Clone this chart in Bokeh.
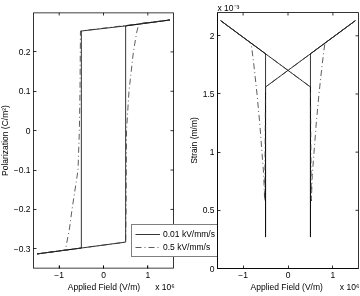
from bokeh.plotting import figure
from bokeh.models import Range1d, FixedTicker, Legend, LegendItem
from bokeh.layouts import row
from bokeh.embed import file_html
from bokeh.resources import INLINE
import math

# ---------------- data (field in units of 1e6 V/m) ----------------
series_names = ["0.01 kV/mm/s", "0.5 kV/mm/s"]

pol_slow_field = [-1.5, -0.5, 0.5, 0.5, 1.5, 0.5, -0.5, -0.5, -1.5]
pol_slow_value = [-0.313, -0.298, -0.283, 0.266, 0.281, 0.266, 0.253, -0.298, -0.313]

pol_fast_field = [-1.5, 0.5, 0.51, 0.515, 0.52, 0.575, 0.675, 0.75, 0.8, 1.5,
                  -0.52, -0.53, -0.545, -0.575, -0.71, -0.77, -0.86, -1.5]
pol_fast_value = [-0.313, -0.283, -0.2, -0.1, 0.0, 0.1, 0.2, 0.25, 0.272, 0.281,
                  0.253, 0.1, 0.0, -0.1, -0.2, -0.25, -0.303, -0.313]

# strain in units of 1e-3
strain_slow_field = [-1.5, 0.5, 0.5, 0.5, 1.5, -0.5, -0.5, -0.5, -1.5]
strain_slow_value = [2.13, 1.56, 0.27, 1.845, 2.13, 1.56, 0.27, 1.845, 2.13]

strain_fast_field = [-1.5, 0.5, 0.51, 0.52, 0.54, 0.58, 0.63, 0.69, 0.76, 0.82, 1.5,
                     -0.5, -0.51, -0.52, -0.54, -0.58, -0.63, -0.69, -0.76, -0.82, -1.5]
strain_fast_value = [2.13, 1.56, 1.0, 0.58, 0.8, 1.0, 1.25, 1.5, 1.75, 1.935, 2.13,
                     1.56, 1.0, 0.58, 0.8, 1.0, 1.25, 1.5, 1.75, 1.935, 2.13]

x_ticks = [-1, 0, 1]
x_tick_labels = ["\u22121", "0", "1"]
pol_ticks = [-0.3, -0.2, -0.1, 0, 0.1, 0.2]
pol_tick_labels = ["\u22120.3", "\u22120.2", "\u22120.1", "0", "0.1", "0.2"]
strain_ticks = [0, 0.5, 1, 1.5, 2]
strain_tick_labels = ["0", "0.5", "1", "1.5", "2"]
x_title = "Applied Field (V/m)"
field_multiplier = "x 10\u2076"
strain_multiplier = "x 10\u207b\u00b3"

# axis limits
field_lim = (-1.58, 1.58)
pol_lim = (-0.35, 0.3)
strain_field_lim = (-1.57, 1.57)
strain_lim = (0, 2.2)

FONT = "Liberation Sans"
FS = "8.5px"
DASH = "6 3 1 3"
LW = 0.8
EM, EN, NB = "\u2003", "\u2002", "\u00a0"

# layout (pixels)
P1_LEFT, P1_BOX, P1_FRAME = 39, 140, 184     # p1 frame reaches into the gap (legend)
P2_LEFT, P2_FRAME, P2_RIGHT = 34, 141, 2


def style_axis(ax, ticks, labels):
    ax.ticker = FixedTicker(ticks=ticks)
    ax.minor_tick_line_color = None
    ax.major_tick_in = 3
    ax.major_tick_out = 0
    ax.axis_line_color = "black"
    ax.axis_line_width = LW
    ax.major_tick_line_color = "black"
    ax.major_tick_line_width = LW
    ax.major_label_text_font = FONT
    ax.major_label_text_color = "black"
    ax.major_label_text_font_size = FS
    ax.major_label_standoff = 3
    ax.axis_label_standoff = 1
    ax.axis_label_text_font = FONT
    ax.axis_label_text_font_style = "normal"
    ax.axis_label_text_font_size = FS
    ax.axis_label_text_color = "black"
    ax.major_label_overrides = {t: l for t, l in zip(ticks, labels)}


def new_fig(xr, yr, width, mbl, mbr):
    p = figure(x_range=xr, y_range=yr, width=width, height=296,
               min_border_left=mbl, min_border_right=mbr, min_border_top=12,
               min_border_bottom=28, output_backend="svg", toolbar_location=None)
    p.grid.visible = False
    return p


def box_ticks(p, xlo, xhi, ylo, yhi, yticks):
    p.ray(x=x_ticks, y=[yhi] * len(x_ticks), length=3, length_units="screen",
          angle=-math.pi / 2, line_color="black", line_width=LW)
    p.ray(x=[xhi] * len(yticks), y=yticks, length=3, length_units="screen",
          angle=math.pi, line_color="black", line_width=LW)


# ---------------- left: polarization ----------------
x_end_ext = field_lim[0] + (field_lim[1] - field_lim[0]) * P1_FRAME / P1_BOX
p1 = new_fig(Range1d(field_lim[0], x_end_ext), Range1d(*pol_lim),
             P1_LEFT + P1_FRAME, P1_LEFT, 0)
p1.outline_line_color = None
p1.border_fill_color = None
style_axis(p1.xaxis[0], x_ticks, x_tick_labels)
p1.xaxis[0].axis_line_color = None
p1.xaxis[0].axis_label = x_title + EM + EN + NB + field_multiplier + EM
style_axis(p1.yaxis[0], pol_ticks, pol_tick_labels)
p1.yaxis[0].axis_label = "Polarization (C/m\u00b2)"
# visible axes box (frame is wider to host the legend)
p1.line([field_lim[0], field_lim[1]], [pol_lim[0], pol_lim[0]], line_color="black", line_width=2 * LW)
p1.line([field_lim[0], field_lim[1]], [pol_lim[1], pol_lim[1]], line_color="black", line_width=2 * LW)
p1.line([field_lim[1], field_lim[1]], [pol_lim[0], pol_lim[1]], line_color="black", line_width=LW)
p1.ray(x=x_ticks, y=[pol_lim[0]] * len(x_ticks), length=3, length_units="screen",
       angle=math.pi / 2, line_color="black", line_width=LW)
box_ticks(p1, field_lim[0], field_lim[1], pol_lim[0], pol_lim[1], pol_ticks)

r_slow = p1.line(pol_slow_field, pol_slow_value, line_color="black", line_width=LW)
r_fast = p1.line(pol_fast_field, pol_fast_value, line_color="#333333", line_width=LW,
                 line_dash=DASH)

legend = Legend(items=[LegendItem(label=series_names[0], renderers=[r_slow]),
                       LegendItem(label=series_names[1], renderers=[r_fast])],
                location=(98, 11), label_text_font=FONT, label_text_font_size=FS,
                label_text_color="black", label_height=12, label_standoff=3,
                glyph_width=25, glyph_height=12, spacing=1, padding=3, margin=0,
                border_line_color="black", border_line_width=LW,
                background_fill_color="white", background_fill_alpha=1)
p1.add_layout(legend, "center")
p1.margin = (0, 0, 0, -6)

# ---------------- right: strain ----------------
p2 = new_fig(Range1d(*strain_field_lim), Range1d(*strain_lim),
             P2_LEFT + P2_FRAME + P2_RIGHT, P2_LEFT, P2_RIGHT)
p2.outline_line_color = "black"
p2.outline_line_width = LW
p2.border_fill_color = None
style_axis(p2.xaxis[0], x_ticks, x_tick_labels)
p2.xaxis[0].axis_label = EM * 4 + x_title + EM + EM + field_multiplier
style_axis(p2.yaxis[0], strain_ticks, strain_tick_labels)
p2.yaxis[0].axis_label = "Strain (m/m)"
box_ticks(p2, strain_field_lim[0], strain_field_lim[1], strain_lim[0], strain_lim[1],
          strain_ticks)
p2.line(strain_slow_field, strain_slow_value, line_color="black", line_width=LW)
p2.line(strain_fast_field, strain_fast_value, line_color="#333333", line_width=LW,
        line_dash=DASH)
p2.title.text = strain_multiplier
p2.title.align = "left"
p2.title.text_font = FONT
p2.title.text_font_size = FS
p2.title.text_font_style = "normal"
p2.title.text_color = "black"
if "standoff" in p2.title.properties():
    p2.title.standoff = 0
p2.margin = (0, 0, 0, -P2_LEFT)
p2.styles = {"mix-blend-mode": "multiply"}

layout = row(p1, p2, spacing=0)
layout.margin = 0

with open("out.html", "w") as f:
    f.write(file_html(layout, INLINE))
